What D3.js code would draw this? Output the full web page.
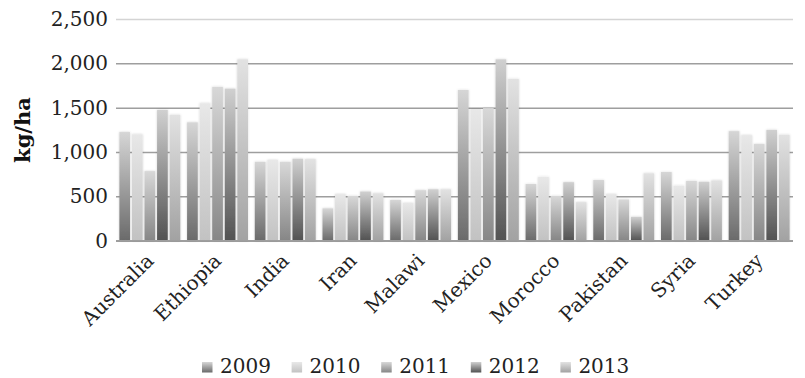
<!DOCTYPE html>
<html>
<head>
<meta charset="utf-8">
<script src="https://cdn.jsdelivr.net/npm/d3@7"></script>
<style>
  html, body { margin: 0; padding: 0; background: #fff; }
  svg { display: block; }
</style>
</head>
<body>
<svg id="chart" width="805" height="378"></svg>
<script>
// Crop yield by country, 2009–2013 (kg/ha)
const countries = ["Australia", "Ethiopia", "India", "Iran", "Malawi", "Mexico", "Morocco", "Pakistan", "Syria", "Turkey"];
const years = ["2009", "2010", "2011", "2012", "2013"];
const y2009 = [1225, 1335, 890, 365, 460, 1700, 640, 685, 775, 1235];
const y2010 = [1200, 1550, 910, 525, 425, 1485, 720, 525, 620, 1190];
const y2011 = [785, 1735, 890, 505, 570, 1495, 505, 465, 675, 1090];
const y2012 = [1475, 1715, 925, 555, 580, 2045, 660, 270, 665, 1250];
const y2013 = [1420, 2045, 920, 535, 580, 1825, 435, 760, 680, 1195];
const yTicks = [0, 500, 1000, 1500, 2000, 2500];

const seriesValues = [y2009, y2010, y2011, y2012, y2013];
// light top → dark bottom shading for each year
const shades = [
  ["#d6d6d6", "#6a6a6a"],
  ["#e8e8e8", "#c2c2c2"],
  ["#d8d8d8", "#868686"],
  ["#d0d0d0", "#525252"],
  ["#e2e2e2", "#a2a2a2"]
];

const svg = d3.select("#chart");
const plotLeft = 116, plotRight = 793, plotTop = 19, plotBottom = 240.7;

const x0 = d3.scaleBand().domain(countries).range([plotLeft, plotRight]).paddingInner(0.1).paddingOuter(0.05);
const x1 = d3.scaleBand().domain(years).range([0, x0.bandwidth()]).paddingInner(0.15).paddingOuter(0);
const y = d3.scaleLinear().domain([0, 2500]).range([plotBottom, plotTop]);

const defs = svg.append("defs");
years.forEach((yr, i) => {
  const g = defs.append("linearGradient")
    .attr("id", "grad" + yr)
    .attr("x1", 0).attr("y1", 0).attr("x2", 0).attr("y2", 1);
  g.append("stop").attr("offset", "0%").attr("stop-color", shades[i][0]);
  g.append("stop").attr("offset", "100%").attr("stop-color", shades[i][1]);
});
const glow = defs.append("filter").attr("id", "glow")
  .attr("x", "-30%").attr("y", "-10%").attr("width", "160%").attr("height", "120%");
glow.append("feGaussianBlur").attr("in", "SourceAlpha").attr("stdDeviation", 1.2).attr("result", "b");
glow.append("feFlood").attr("flood-color", "#000").attr("flood-opacity", 0.18);
glow.append("feComposite").attr("in2", "b").attr("operator", "in").attr("result", "s");
const fm = glow.append("feMerge");
fm.append("feMergeNode").attr("in", "s");
fm.append("feMergeNode").attr("in", "SourceGraphic");

// gridlines
const yAxis = d3.axisLeft(y).tickValues(yTicks).tickSize(-(plotRight - plotLeft)).tickPadding(8)
  .tickFormat(d3.format(","));
const ga = svg.append("g").attr("transform", `translate(${plotLeft},0)`).call(yAxis);
ga.select(".domain").remove();
ga.selectAll(".tick line")
  .attr("stroke", d => d === 2500 ? "#d4d4d4" : "#9e9e9e")
  .attr("stroke-width", 1.5);
ga.selectAll(".tick text")
  .attr("font-family", "'DejaVu Serif', serif")
  .attr("font-size", 20)
  .attr("fill", "#222");

// bars
const groups = svg.append("g").selectAll("g")
  .data(countries)
  .join("g")
  .attr("transform", d => `translate(${x0(d)},0)`);

groups.selectAll("rect")
  .data((c, ci) => years.map((yr, si) => ({ yr, v: seriesValues[si][ci] })))
  .join("rect")
  .attr("x", d => x1(d.yr))
  .attr("width", x1.bandwidth())
  .attr("y", d => y(d.v))
  .attr("height", d => y(0) - y(d.v))
  .attr("fill", d => `url(#grad${d.yr})`)
  .attr("filter", "url(#glow)");

// x axis baseline
svg.append("line")
  .attr("x1", plotLeft).attr("x2", plotRight)
  .attr("y1", y(0)).attr("y2", y(0))
  .attr("stroke", "#9e9e9e").attr("stroke-width", 1.5);

// category labels, rotated
svg.append("g").selectAll("text")
  .data(countries)
  .join("text")
  .attr("transform", d => `translate(${x0(d) + x0.bandwidth() / 2 + 5},${262}) rotate(-45)`)
  .attr("text-anchor", "end")
  .attr("font-family", "'DejaVu Serif', serif")
  .attr("font-size", 20)
  .attr("fill", "#222")
  .text(d => d);

// y-axis title
svg.append("text")
  .attr("transform", `translate(30,130) rotate(-90)`)
  .attr("text-anchor", "middle")
  .attr("font-family", "'DejaVu Serif', serif")
  .attr("font-weight", "bold")
  .attr("font-size", 21)
  .attr("fill", "#111")
  .text("kg/ha");

// legend
const legend = svg.append("g").selectAll("g")
  .data(years)
  .join("g")
  .attr("transform", (d, i) => `translate(${202 + i * 89.6},362)`);
legend.append("rect")
  .attr("width", 10.5).attr("height", 10.5)
  .attr("fill", d => `url(#grad${d})`);
legend.append("text")
  .attr("x", 18).attr("y", 11)
  .attr("font-family", "'DejaVu Serif', serif")
  .attr("font-size", 20)
  .attr("fill", "#222")
  .text(d => d);
</script>
</body>
</html>
